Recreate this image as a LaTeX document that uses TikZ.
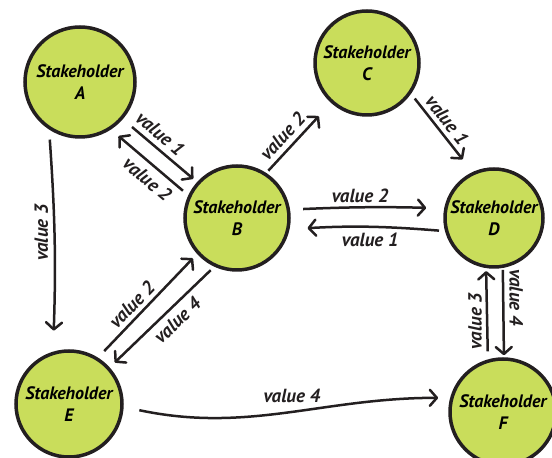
\documentclass[tikz,border=0pt]{standalone}
\usepackage{fontspec}
\setmainfont{PT Sans}
\usepackage{xcolor}
\usetikzlibrary{arrows.meta}

\definecolor{stakegreen}{RGB}{201,221,91}
\definecolor{ink}{RGB}{35,31,32}

\begin{document}
\begin{tikzpicture}[
  x=1pt, y=1pt,
  holder/.style={
    circle,
    draw=ink,
    line width=3.5pt,
    fill=stakegreen,
    inner sep=0pt,
    minimum size=#1,
    align=center,
    font=\bfseries\itshape\fontsize{18}{22}\selectfont
  },
  holder/.default=104pt,
  flow/.style={draw=ink, line width=2.5pt, -{Straight Barb[length=7pt,width=16pt,round]}},
  lbl/.style={font=\bfseries\itshape\fontsize{19}{22}\selectfont, text=ink, inner sep=5pt}
]
\useasboundingbox (0,0) rectangle (552,458);

% --- Stakeholders ---
\node[holder=110pt] (A) at (80,376) {Stakeholder\\A};
\node[holder]       (B) at (237,240) {Stakeholder\\B};
\node[holder]       (C) at (367,395) {Stakeholder\\C};
\node[holder=98pt]  (D) at (494,240) {Stakeholder\\D};
\node[holder=106pt] (E) at (69,54)   {Stakeholder\\E};
\node[holder=106pt] (F) at (503,46)  {Stakeholder\\F};

% --- A <-> B ---
\draw[flow, shorten <=12pt, shorten >=5pt] (A.-41) -- node[lbl, sloped, above, pos=0.39] {value 1} (B.138);
\draw[flow, shorten <=7pt, shorten >=10pt] (B.155) -- node[lbl, sloped, below, pos=0.41, inner sep=6pt] {value 2} (A.-57);

% --- A -> E ---
\draw[flow, shorten <=10pt, shorten >=21pt] (A.237) to[bend left=3]
  node[lbl, pos=0.46, rotate=90, anchor=south] {value 3} (E.107);

% --- B -> C -> D ---
\draw[flow, shorten <=3pt, shorten >=18pt] (B.57) -- node[lbl, sloped, above, pos=0.4] {value 2} (C.228);
\draw[flow, shorten <=6pt, shorten >=16pt] (C.-35) -- node[lbl, sloped, above, pos=0.43, inner sep=4pt] {value 1} (D.115);

% --- B <-> D ---
\draw[flow, shorten <=13pt, shorten >=18pt] (B.9) to[bend left=2]
  node[lbl, above, pos=0.45, inner sep=3pt] {value 2} (D.169);
\draw[flow, shorten <=6pt, shorten >=18pt] (D.195) to[bend right=4]
  node[lbl, below, pos=0.48] {value 1} (B.-12);

% --- B <-> E ---
\draw[flow, shorten <=9pt, shorten >=6pt] (E.58) -- node[lbl, sloped, above, pos=0.43, inner sep=4pt] {value 2} (B.222);
\draw[flow, shorten <=5pt, shorten >=7pt] (B.245) -- node[lbl, sloped, below, pos=0.44] {value 4} (E.42);

% --- E -> F ---
\draw[flow, shorten <=16pt, shorten >=12pt] (E.-3) to[out=-12, in=180]
  node[lbl, pos=0.52, above=3pt] {value 4} (F.165);

% --- D <-> F ---
\draw[flow, shorten <=8pt, shorten >=3pt] (F.106) --
  node[lbl, pos=0.42, rotate=90, anchor=south, inner sep=4pt] {value 3} (D.-99);
\draw[flow, shorten <=2pt, shorten >=2pt] (D.-80) --
  node[lbl, pos=0.33, rotate=-90, anchor=south] {value 4} (F.89);

\end{tikzpicture}
\end{document}
